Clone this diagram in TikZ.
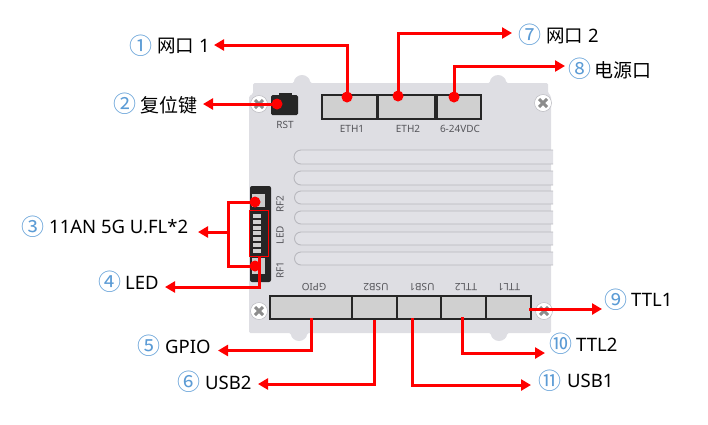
\documentclass[tikz,border=0pt]{standalone}
\usepackage{fontspec}
\setmainfont{Noto Sans}
\newfontfamily\cjk{Noto Sans CJK SC}
\definecolor{boardc}{HTML}{DEDEE3}
\definecolor{portc}{HTML}{D0D0D0}
\definecolor{slotl}{HTML}{B8B8BE}
\definecolor{numc}{HTML}{5B9BD5}
\definecolor{inkc}{HTML}{55555A}
\usetikzlibrary{arrows.meta}
\tikzset{
  lead/.style={draw=red,line width=3pt,line join=miter,-{Triangle[length=10pt,width=11pt]}},
  leadplain/.style={draw=red,line width=3pt},
  dotc/.style={circle,fill=red,inner sep=0pt,minimum size=11pt},
  port/.style={draw=black!85,line width=1.1pt,fill=portc,inner sep=0pt},
  slotbar/.style={draw=slotl,line width=0.9pt,fill=boardc!90!white},
  silk/.style={text=inkc,font=\fontsize{10}{11}\selectfont,inner sep=0pt},
  num/.style={text=numc,font=\cjk\fontsize{23}{24}\selectfont,inner sep=0pt},
  lab/.style={anchor=west,text=black,font=\fontsize{18.5}{20}\selectfont,inner sep=0pt},
  labc/.style={anchor=west,text=black,font=\cjk\fontsize{19}{21}\selectfont,inner sep=0pt},
  screw/.style={circle,fill=white,draw=slotl,line width=0.5pt,minimum size=17pt,inner sep=0pt},
}
\begin{document}
\begin{tikzpicture}[x=1pt,y=-1pt]
\useasboundingbox (0,0) rectangle (708,424);
% board
\fill[boardc,rounded corners=1.5pt] (253,83) -- (294,83) arc[start angle=180,end angle=360,radius=8] -- (490,83)
  arc[start angle=180,end angle=360,radius=8] -- (548,83) -- (548,93) -- (551,96) -- (551,333)
  -- (507,333) arc[start angle=0,end angle=180,radius=8] -- (307,333)
  arc[start angle=0,end angle=180,radius=8] -- (249,333) -- (249,96) -- (253,94) -- cycle;
% slots
\foreach \ya/\yb in {150/164,171/185,191/204,211/224,232/245,252/265}{
  \draw[slotbar] (553,\ya) -- (301,\ya) arc[start angle=270,end angle=90,radius={(\yb-\ya)/2}] -- (553,\yb);
}
% RF strip
\fill[black!85,rounded corners=2pt] (250,186) rectangle (271,282);
\fill[white!80!black] (252,194) rectangle (265,207);
\fill[white!80!black] (252,258) rectangle (265,274);
\foreach \i in {0,...,6}{\fill[portc] (253,{214+\i*5.8}) rectangle (261,{218+\i*5.8});}
\node[draw=red,line width=0.9pt,inner sep=0pt,minimum width=19pt,minimum height=46pt] (ledbox) at (258.5,233) {};
% reset button
\node[fill=black!85,rounded corners=1.5pt,minimum width=27pt,minimum height=20pt,inner sep=0pt] (rst) at (284.5,105) {};
\fill[black!85] (279,93) rectangle (292,96);
% top ports
\node[port,minimum width=55pt,minimum height=24pt] (eth1) at (349.5,107) {};
\node[port,minimum width=57pt,minimum height=24pt] (eth2) at (406.5,107) {};
\node[port,minimum width=44pt,minimum height=24pt] (dc) at (459,107) {};
% bottom ports
\node[port,minimum width=82pt,minimum height=23pt] (gpio) at (311,307.5) {};
\node[port,minimum width=45pt,minimum height=23pt] (usb2) at (374.5,307.5) {};
\node[port,minimum width=44pt,minimum height=23pt] (usb1) at (419,307.5) {};
\node[port,minimum width=45pt,minimum height=23pt] (ttl2) at (463.5,307.5) {};
\node[port,minimum width=45pt,minimum height=23pt] (ttl1) at (508.5,307.5) {};
% screws
\foreach \x/\y in {259/104,543/103,259/311,544/311}{
  \node[screw] at (\x,\y) {};
  \draw[black!45,line width=3pt] (\x-4,\y-4) -- (\x+4,\y+4) (\x-4,\y+4) -- (\x+4,\y-4);
}
% silk labels
\node[silk] (trst) at (285,125) {RST};
\node[silk] (teth1) at (352,129) {ETH1};
\node[silk] (teth2) at (408,129) {ETH2};
\node[silk] (tdc) at (460,129) {6-24VDC};
\node[silk,rotate=180] (tgpio) at (314,287) {GPIO};
\node[silk,rotate=180] (tusb2) at (376,287) {USB2};
\node[silk,rotate=180] (tusb1) at (422,287) {USB1};
\node[silk,rotate=180] (tttl2) at (466,287) {TTL2};
\node[silk,rotate=180] (tttl1) at (509,287) {TTL1};
\node[silk,rotate=90] (trf2) at (280,204) {RF2};
\node[silk,rotate=90] (tled) at (280,235) {LED};
\node[silk,rotate=90] (trf1) at (280,270) {RF1};
% connector ends
\coordinate (p1) at (347,97);
\coordinate (p7) at (398,96);
\coordinate (p8) at (454,97);
\coordinate (p2) at (277,104);
\coordinate (rfa) at (255,202);
\coordinate (rfb) at (255,266);
\coordinate (pled) at (259,256);
\coordinate (p5) at (311,318);
\coordinate (p6) at (374,320);
\coordinate (p11) at (412,318);
\coordinate (p10) at (462,317);
\coordinate (p9) at (529,309);
\coordinate (j3) at (228,232);
\coordinate (t1) at (214,45);
\coordinate (t7) at (512,33);
\coordinate (t8) at (565,66);
\coordinate (t2) at (203,104);
\coordinate (t3) at (198,232);
\coordinate (t4) at (165,287);
\coordinate (t5) at (218,350.5);
\coordinate (t6) at (258,384);
\coordinate (t11) at (531,385);
\coordinate (t10) at (545,353);
\coordinate (t9) at (602,309);
\foreach \p in {p1,p7,p8,p2,rfa,rfb}{\node[dotc] at (\p) {};}
\draw[lead] (p1) |- (t1);
\draw[lead] (p7) |- (t7);
\draw[lead] (p8) |- (t8);
\draw[lead] (p2) -- (t2);
\draw[leadplain] (rfa) -| (j3) |- (rfb);
\draw[lead] (j3) -- (t3);
\draw[lead] (pled) |- (t4);
\draw[lead] (p5) |- (t5);
\draw[lead] (p6) |- (t6);
\draw[lead] (p11) |- (t11);
\draw[lead] (p10) |- (t10);
\draw[lead] (p9) -- (t9);
% labels
\node[num] (n1) at (141,46) {①};
\node[lab] (l1) at (157,46) {{\cjk\fontsize{18.5}{20}\selectfont 网口} 1};
\node[num] (n2) at (125,104) {②};
\node[labc] (l2) at (140,105) {复位键};
\node[num] (n3) at (33,227) {③};
\node[lab] (l3) at (49,227) {11AN 5G U.FL*2};
\node[num] (n4) at (110,282) {④};
\node[lab] (l4) at (125,283) {LED};
\node[num] (n5) at (149,346) {⑤};
\node[lab] (l5) at (165,347) {GPIO};
\node[num] (n6) at (189,382) {⑥};
\node[lab] (l6) at (205,383) {USB2};
\node[num] (n7) at (530,35) {⑦};
\node[lab] (l7) at (546,36) {{\cjk\fontsize{18.5}{20}\selectfont 网口} 2};
\node[num] (n8) at (580,69) {⑧};
\node[labc] (l8) at (594,70) {电源口};
\node[num] (n9) at (616,300) {⑨};
\node[lab] (l9) at (631,300) {TTL1};
\node[num] (n10) at (561,344) {⑩};
\node[lab] (l10) at (576,345) {TTL2};
\node[num] (n11) at (550,381) {⑪};
\node[lab] (l11) at (567,381) {USB1};
\end{tikzpicture}
\end{document}
